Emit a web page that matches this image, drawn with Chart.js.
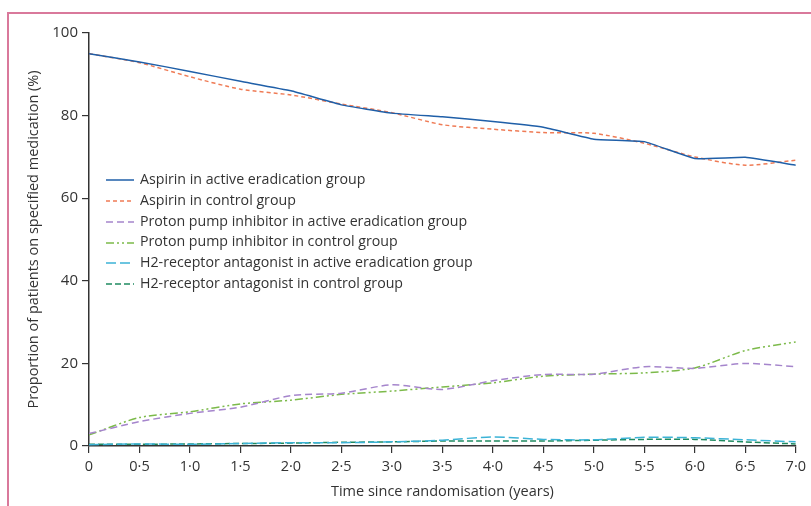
<!DOCTYPE html>
<html>
<head>
<meta charset="utf-8">
<script src="https://cdn.jsdelivr.net/npm/chart.js@4.4.1/dist/chart.umd.min.js"></script>
<style>
  body { margin: 0; background: #fff; }
  #wrap { position: relative; width: 811px; height: 506px; overflow: hidden; font-family: "Open Sans", sans-serif; }
  #frame { position: absolute; left: 7px; top: 12px; width: 820px; height: 520px;
           border-left: 2px solid #d9799b; border-top: 2px solid #d9799b; }
  #chart { position: absolute; left: 0; top: 0; }
  #legend { position: absolute; left: 106px; top: 169px; font-size: 14.2px; color: #333; }
  #legend div { height: 20.8px; line-height: 20.8px; white-space: nowrap; }
  #legend svg { vertical-align: middle; margin-right: 6px; }
</style>
</head>
<body>
<div id="wrap">
  <div id="frame"></div>
  <canvas id="chart" width="811" height="506"></canvas>
  <div id="legend"></div>
</div>
<script>
// Años desde la aleatorización
const years = [0, 0.5, 1, 1.5, 2, 2.5, 3, 3.5, 4, 4.5, 5, 5.5, 6, 6.5, 7];

// % de pacientes con cada medicación
const aspirinActive = [95, 93, 90.7, 88.3, 86, 82.6, 80.6, 79.7, 78.6, 77.2, 74.3, 73.7, 69.6, 69.9, 68];
const aspirinControl = [95, 92.8, 89.4, 86.4, 85, 82.8, 80.7, 77.8, 76.7, 75.9, 75.7, 73.3, 70, 68, 69.2];
const ppiActive = [3.0, 5.9, 7.9, 9.4, 12.2, 12.8, 14.8, 13.7, 15.8, 17.3, 17.4, 19.2, 18.8, 20, 19.2];
const ppiControl = [2.7, 6.9, 8.3, 10.2, 11.1, 12.5, 13.3, 14.3, 15.3, 16.9, 17.4, 17.7, 18.9, 23.1, 25.2];
const h2Active = [0.3, 0.5, 0.4, 0.6, 0.8, 0.8, 1.0, 1.4, 2.2, 1.6, 1.5, 2.1, 2.0, 1.5, 1.0];
const h2Control = [0.4, 0.4, 0.5, 0.6, 0.7, 0.9, 1.0, 1.2, 1.2, 1.2, 1.4, 1.6, 1.6, 1.0, 0.5];

const yTicks = [0, 20, 40, 60, 80, 100];

const pts = arr => arr.map((v, i) => ({ x: years[i], y: v }));
const fmt = v => v === 0 ? '0' : v.toFixed(1).replace('.', '·');

const chart = new Chart(document.getElementById('chart'), {
    type: 'line',
    data: {
        datasets: [
            { label: 'Aspirin in active eradication group', data: pts(aspirinActive), borderColor: '#1f5fa8', borderDash: [], tension: 0.1 },
            { label: 'Aspirin in control group', data: pts(aspirinControl), borderColor: '#ef7b55', borderDash: [4, 3] },
            { label: 'Proton pump inhibitor in active eradication group', data: pts(ppiActive), borderColor: '#a585cc', borderDash: [7, 4] },
            { label: 'Proton pump inhibitor in control group', data: pts(ppiControl), borderColor: '#7cba4a', borderDash: [8, 3, 2, 3, 2, 3] },
            { label: 'H2-receptor antagonist in active eradication group', data: pts(h2Active), borderColor: '#3cb3d6', borderDash: [10, 4] },
            { label: 'H2-receptor antagonist in control group', data: pts(h2Control), borderColor: '#1f8a60', borderDash: [6, 3] }
        ]
    },
    options: {
        responsive: false,
        animation: false,
        elements: {
            point: { radius: 0 },
            line: { borderWidth: 1.5, tension: 0.25, fill: false }
        },
        layout: { padding: { top: 33, right: 14, left: 0, bottom: 0 } },
        plugins: { legend: { display: false }, tooltip: { enabled: false } },
        scales: {
            x: {
                type: 'linear', min: 0, max: 7,
                afterFit: s => { s.height = 60; },
                afterBuildTicks: s => { s.ticks = years.map(v => ({ value: v })); },
                ticks: { callback: fmt, color: '#333', font: { family: 'Open Sans', size: 14.5 }, padding: 5, maxRotation: 0 },
                grid: { display: true, drawOnChartArea: false, drawTicks: true, tickLength: 7, color: '#333', lineWidth: 1.2 },
                border: { display: true, color: '#333', width: 1.5 },
                title: { display: true, text: 'Time since randomisation (years)', color: '#333',
                         font: { family: 'Open Sans', size: 14.5 }, padding: { top: 0, bottom: 5 } }
            },
            y: {
                min: 0, max: 100,
                afterFit: s => { s.width = 89; },
                afterBuildTicks: s => { s.ticks = yTicks.map(v => ({ value: v })); },
                ticks: { color: '#333', font: { family: 'Open Sans', size: 15 }, padding: 4 },
                grid: { display: true, drawOnChartArea: false, drawTicks: true, tickLength: 7, color: '#333', lineWidth: 1.2 },
                border: { display: true, color: '#333', width: 1.5 },
                title: { display: true, text: 'Proportion of patients on specified medication (%)', color: '#333',
                         font: { family: 'Open Sans', size: 14.5 }, padding: { top: 25, bottom: 0 } }
            }
        }
    }
});

// Leyenda dentro del gráfico
const legend = document.getElementById('legend');
chart.data.datasets.forEach(ds => {
    const row = document.createElement('div');
    const dash = ds.borderDash.length ? ds.borderDash.join(',') : 'none';
    row.innerHTML = '<svg width="28" height="4"><line x1="0" y1="2" x2="28" y2="2" stroke="' + ds.borderColor +
        '" stroke-width="1.5" stroke-dasharray="' + dash + '"/></svg>';
    row.appendChild(document.createTextNode(ds.label));
    legend.appendChild(row);
});
</script>
</body>
</html>
